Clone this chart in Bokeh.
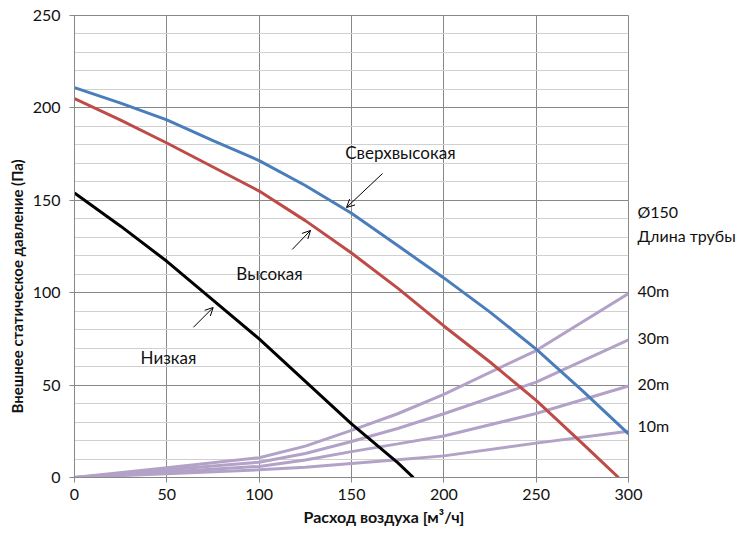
from bokeh.plotting import figure
from bokeh.models import (Range1d, SingleIntervalTicker, FixedTicker, Label, Arrow, OpenHead,
                          LinearAxis, Title)
from bokeh.embed import file_html
from bokeh.resources import INLINE

# ---- data ----
x_blue = [0, 25, 50, 75, 100, 125, 150, 175, 200, 225, 250, 275, 300]
y_blue = [211, 202.6, 193.5, 182.3, 171.5, 158, 143, 125.5, 108, 89.5, 69.5, 47, 23.6]

x_red = [0, 25, 50, 75, 100, 125, 150, 175, 200, 225, 250, 275, 294.6]
y_red = [205, 193.4, 181, 168, 155, 139, 121.5, 102.5, 82, 62.5, 41.7, 18.5, 0]

x_black = [0, 25, 50, 75, 100, 125, 150, 175, 183.5]
y_black = [154, 136, 117, 96, 75, 52, 29, 8, 0]

x_pipe = [0, 50, 100, 125, 150, 175, 200, 250, 300]
pipe_40m = [0, 5.3, 10.7, 17, 25.5, 34.5, 45, 68.7, 99.5]
pipe_30m = [0, 4.2, 8.3, 13, 19.5, 26.5, 34.5, 51.6, 74.5]
pipe_20m = [0, 3, 6, 9.5, 14, 18.2, 22.5, 34.6, 49.5]
pipe_10m = [0, 2, 4.2, 5.6, 7.6, 9.6, 11.7, 18.6, 25]

right_ticks = [144, 131, 101, 76, 51, 28]
right_labels = ["Ø150", "Длина трубы", "40m", "30m", "20m", "10m"]

x_title = "Расход воздуха [м³/ч]"
y_title = "Внешнее статическое давление (Па)"

FONT = "Lato"
GRID_MAJ = "#888888"
GRID_MIN = "#d0d0d0"
TXT = "#111111"

p = figure(width=744, height=530, output_backend="svg", toolbar_location=None,
           x_range=Range1d(0, 300), y_range=Range1d(0, 250),
           min_border_left=74, min_border_right=116, min_border_top=15, min_border_bottom=53)
p.outline_line_color = GRID_MAJ
p.outline_line_width = 1
p.background_fill_color = "white"
p.border_fill_color = "white"

p.xaxis.ticker = SingleIntervalTicker(interval=50, num_minor_ticks=0)
p.yaxis.ticker = SingleIntervalTicker(interval=50, num_minor_ticks=5)
for ax in (p.xaxis, p.yaxis):
    ax.axis_line_color = GRID_MAJ
    ax.major_tick_line_color = GRID_MAJ
    ax.major_tick_in = 0
    ax.major_tick_out = 5
    ax.minor_tick_line_color = None
    ax.major_label_text_font = FONT
    ax.major_label_text_font_size = "16px"
    ax.major_label_text_color = TXT
p.yaxis.major_label_standoff = 9
p.xaxis.major_label_standoff = 6

p.xgrid.grid_line_color = GRID_MAJ
p.xgrid.ticker = SingleIntervalTicker(interval=50)
p.ygrid.grid_line_color = GRID_MAJ
p.ygrid.ticker = SingleIntervalTicker(interval=50, num_minor_ticks=5)
p.ygrid.minor_grid_line_color = GRID_MIN

# right-side texts (pipe diameter / length labels)
rax = LinearAxis(ticker=FixedTicker(ticks=right_ticks),
                 major_label_overrides={t: s for t, s in zip(right_ticks, right_labels)})
rax.axis_line_color = None
rax.major_tick_line_color = None
rax.minor_tick_line_color = None
rax.major_tick_in = 0
rax.major_tick_out = 0
rax.major_label_standoff = 9
rax.major_label_text_font = FONT
rax.major_label_text_font_size = "16px"
rax.major_label_text_color = TXT
p.add_layout(rax, "right")

# axis titles
p.add_layout(Title(text=y_title, align="left", offset=64, standoff=7, text_font=FONT,
                   text_font_size="15px", text_font_style="bold", text_color=TXT), "left")
p.add_layout(Title(text=x_title, align="left", offset=229, standoff=4, text_font=FONT,
                   text_font_size="16px", text_font_style="bold", text_color=TXT), "below")

lav = "#b3a2c7"
for ys in (pipe_40m, pipe_30m, pipe_20m, pipe_10m):
    p.line(x_pipe, ys, line_color=lav, line_width=3)
p.line(x_black, y_black, line_color="black", line_width=3)
p.line(x_red, y_red, line_color="#be4b48", line_width=3)
p.line(x_blue, y_blue, line_color="#4a7ebb", line_width=3)

def lab(x, y, t):
    p.add_layout(Label(x=x, y=y, text=t, text_font=FONT, text_font_size="17px",
                       text_align="center", text_baseline="middle", text_color=TXT))

lab(176.5, 175.9, "Сверхвысокая")
lab(105.6, 110.6, "Высокая")
lab(50.9, 64.9, "Низкая")

for (x0, y0, x1, y1) in [(166.8, 164.5, 147.3, 146.1), (117.9, 123.4, 127.8, 133.7), (64.4, 81.3, 75.1, 92.0)]:
    p.add_layout(Arrow(x_start=x0, y_start=y0, x_end=x1, y_end=y1, line_width=1, line_color="black",
                       end=OpenHead(size=8, line_width=1, line_color="black")))

open("out.html", "w").write(file_html(p, INLINE))
